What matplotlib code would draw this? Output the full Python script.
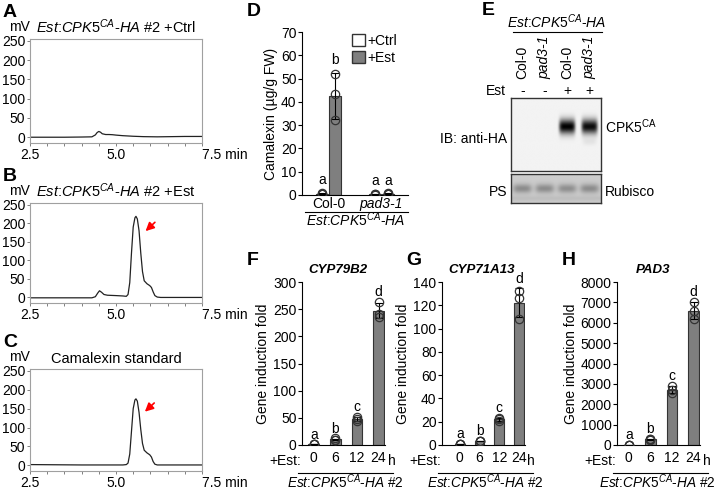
import numpy as np
import matplotlib
matplotlib.use("Agg")
import matplotlib.pyplot as plt
from matplotlib.patches import Patch

plt.rcParams["font.family"] = ["Liberation Sans", "DejaVu Sans"]
plt.rcParams["mathtext.fontset"] = "custom"
plt.rcParams["mathtext.rm"] = "Liberation Sans"
plt.rcParams["mathtext.it"] = "Liberation Sans:italic"
plt.rcParams["font.size"] = 10

W, H = 717, 492

# ---- HPLC traces (time in min, signal in mV) ----
ctrl_t = [2.5, 3.0, 3.5, 4.0, 4.3, 4.4, 4.45, 4.5, 4.55, 4.6, 4.7, 4.8, 4.9, 5.0, 5.2, 5.5, 5.8, 6.2, 6.6, 7.0, 7.5]
ctrl_mv = [0, 0, 0, 0.5, 1, 6, 12, 15, 13, 9, 7, 7, 6.5, 5.5, 4, 2.5, 1.5, 1, 1.5, 2, 2]

est_t = [2.5, 3.5, 4.3, 4.4, 4.47, 4.52, 4.58, 4.65, 4.75, 5.0, 5.2, 5.3, 5.35, 5.4, 5.45, 5.5, 5.55, 5.58,
         5.62, 5.67, 5.72, 5.77, 5.82, 5.9, 5.98, 6.03, 6.08, 6.13, 6.2, 6.3, 7.0, 7.5]
est_mv = [-1, -1, -1, 2, 12, 18, 14, 8, 6, 5, 4, 3, 8, 40, 120, 190, 215, 219,
          212, 180, 120, 70, 45, 37, 32, 27, 15, 5, 1, 0, 0, 0]

std_t = [2.5, 4.0, 5.2, 5.3, 5.35, 5.4, 5.45, 5.5, 5.55, 5.58, 5.62, 5.67, 5.72, 5.77, 5.82, 5.9, 5.98,
         6.03, 6.08, 6.13, 6.2, 7.5]
std_mv = [2, 1, 1, 2, 6, 30, 90, 150, 173, 176, 170, 140, 95, 58, 40, 33, 28, 22, 10, 3, 1, 1]

# ---- camalexin (ug/g FW), three replicates ----
genotypes = ["Col-0", "pad3-1"]
cam_ctrl = [[0.5, 0.8, 0.6], [0.3, 0.4, 0.2]]
cam_est = [[52, 43.5, 32], [0.4, 0.7, 0.5]]
cam_letters_ctrl = ["a", "a"]
cam_letters_est = ["b", "a"]

# ---- western blot band intensities per lane ----
blot_lanes = ["Col-0", "pad3-1", "Col-0", "pad3-1"]
blot_est = ["-", "-", "+", "+"]
cpk_band = [0.0, 0.0, 1.0, 0.95]
rubisco_band = [1.0, 1.0, 0.95, 1.0]

# ---- qPCR gene induction ----
hours = ["0", "6", "12", "24"]
gene_letters = ["a", "b", "c", "d"]
cyp79b2 = [[1, 1, 1], [9, 12, 10], [45, 48, 52], [263, 242, 236]]
cyp71a13 = [[1, 1, 1], [3.5, 3.2, 3.8], [21, 22, 23], [108, 126, 132]]
pad3 = [[1, 1, 1], [250, 280, 300], [2550, 2700, 2900], [6200, 6600, 7000]]

BAR = "#7f7f7f"
LINE_LABEL = r"$\mathit{Est}$:$\mathit{CPK5}^{\mathit{CA}}$-$\mathit{HA}$"

fig = plt.figure(figsize=(W / 100, H / 100), dpi=100)


def px_axes(l, t, r, b):
    return fig.add_axes([l / W, 1 - b / H, (r - l) / W, (b - t) / H])


def ft(x, y, s, **kw):
    return fig.text(x / W, 1 - y / H, s, **kw)


def hline(x0, x1, y, **kw):
    fig.add_artist(plt.Line2D([x0 / W, x1 / W], [1 - y / H, 1 - y / H], color="black", lw=0.8, **kw))


def chromatogram(box, t, mv, title, letter, arrow=None):
    ax = px_axes(*box)
    ax.plot(t, mv, color="#222222", lw=0.9)
    ax.set_xlim(2.5, 7.5)
    ax.set_ylim(-15, 255)
    ax.set_xticks(np.arange(2.5, 7.51, 0.5))
    ax.set_xticklabels(["2.5", "", "", "", "", "5.0", "", "", "", "", "7.5 min"])
    ax.set_yticks(range(0, 251, 50))
    for s in ax.spines.values():
        s.set_color("#a0a0a0")
        s.set_linewidth(0.8)
    ax.tick_params(length=2.5, width=0.7, color="#808080", labelsize=10, pad=1)
    ax.get_xticklabels()[-1].set_horizontalalignment("left")
    ax.get_xticklabels()[-1].set_x(7.18)
    ft(box[0] - 11, box[1] - 5, "mV", ha="center", va="bottom", fontsize=10)
    ft((box[0] + box[2]) / 2, box[1] - 3, title, ha="center", va="bottom", fontsize=10.5)
    ft(3, box[1] - 35, letter, ha="left", va="top", fontsize=14, fontweight="bold")
    if arrow:
        ax.annotate("", xy=arrow[1], xytext=arrow[0],
                    arrowprops=dict(arrowstyle="-|>,head_length=0.5,head_width=0.25", color="red", lw=1.2))
    return ax


chromatogram((30, 39, 202, 143), ctrl_t, ctrl_mv, LINE_LABEL + " #2 +Ctrl", "A")
chromatogram((30, 203, 202, 303), est_t, est_mv, LINE_LABEL + " #2 +Est", "B",
             arrow=((6.19, 208), (5.80, 174)))
chromatogram((30, 369, 202, 471), std_t, std_mv, "Camalexin standard", "C",
             arrow=((6.17, 170), (5.78, 137)))


def dots(ax, x, vals):
    ax.plot([x] * len(vals), vals, "o", ms=6, mfc="none", mec="#333333", mew=0.9, zorder=4)


def mean_sd(vals):
    return np.mean(vals), np.std(vals, ddof=1)


# ---- D: camalexin ----
axd = px_axes(302, 32, 408, 195)
off, bw = 0.125, 0.22
for i, g in enumerate(genotypes):
    for vals, dx, fc, let in [(cam_ctrl[i], -off, "white", cam_letters_ctrl[i]),
                              (cam_est[i], off, BAR, cam_letters_est[i])]:
        m, sd = mean_sd(vals)
        axd.bar(i + dx, m, width=bw, color=fc, edgecolor="#333333", lw=0.8, zorder=2)
        axd.errorbar(i + dx, m, yerr=sd, color="black", capsize=3, lw=0.8, capthick=0.8, zorder=3)
        dots(axd, i + dx, vals)
        axd.text(i + dx, m + sd + 2.5, let, ha="center", va="bottom", fontsize=10)
axd.set_xlim(-0.5, 1.5)
axd.set_ylim(0, 70)
axd.set_yticks(range(0, 71, 10))
axd.set_xticks([0, 1])
axd.set_xticklabels(genotypes)
axd.get_xticklabels()[1].set_fontstyle("italic")
axd.tick_params(axis="x", length=0, pad=1.5, labelsize=10)
axd.tick_params(axis="y", length=3, width=0.8, labelsize=10, pad=1)
for s in ["top", "right"]:
    axd.spines[s].set_visible(False)
axd.set_ylabel("Camalexin (µg/g FW)", fontsize=10, labelpad=2)
axd.legend(handles=[Patch(fc="white", ec="#333333", label="+Ctrl"), Patch(fc=BAR, ec="#333333", label="+Est")],
           loc="upper left", bbox_to_anchor=(0.41, 1.03), frameon=False, fontsize=10,
           handlelength=0.9, handleheight=0.9, handletextpad=0.15, labelspacing=0.2, borderpad=0)
hline(305, 408, 212)
ft(356, 226, LINE_LABEL, ha="center", va="baseline", fontsize=10)
ft(247, 3, "D", ha="left", va="top", fontsize=14, fontweight="bold")

# ---- E: western blot ----
nx = 200
xx = np.linspace(0, 4, nx)
ax_top = px_axes(511, 98, 601, 171)
yy = np.linspace(0, 1, 120)[:, None]
img = np.zeros((120, nx))
for k, a in enumerate(cpk_band):
    img += a * np.exp(-((xx - (k + 0.5)) / 0.36) ** 6)[None, :] * np.exp(-((yy - 0.39) / 0.1) ** 2)
img += 0.06 * cpk_band[3] * np.exp(-((xx - 3.5) / 0.3) ** 4)[None, :] * np.exp(-((yy - 0.6) / 0.05) ** 2)
ax_top.imshow(1 - img, cmap="gray", vmin=0, vmax=1.05, aspect="auto", extent=[0, 4, 1, 0])
ax_low = px_axes(511, 174, 601, 203)
yy2 = np.linspace(0, 1, 60)[:, None]
img2 = np.full((60, nx), 0.80)
for k, a in enumerate(rubisco_band):
    img2 -= 0.25 * a * np.exp(-((xx - (k + 0.5)) / 0.42) ** 4)[None, :] * np.exp(-((yy2 - 0.5) / 0.16) ** 2)
img2 -= 0.05 * np.exp(-((yy2 - 0.85) / 0.1) ** 2)
ax_low.imshow(img2, cmap="gray", vmin=0, vmax=1, aspect="auto", extent=[0, 4, 1, 0])
for a in (ax_top, ax_low):
    a.set_xticks([])
    a.set_yticks([])
    for s in a.spines.values():
        s.set_linewidth(1.0)
        s.set_color("#333333")
lane_x = [511 + (k + 0.5) * 22.5 for k in range(4)]
for k, x in enumerate(lane_x):
    ft(x, 79, blot_lanes[k], rotation=90, ha="center", va="bottom", fontsize=10,
       fontstyle="italic" if blot_lanes[k].startswith("pad") else "normal")
    ft(x, 91, blot_est[k], ha="center", va="center", fontsize=10)
ft(506, 91, "Est", ha="right", va="center", fontsize=10)
hline(513, 602, 32)
ft(557, 28, LINE_LABEL, ha="center", va="baseline", fontsize=10)
ft(507, 139, "IB: anti-HA", ha="right", va="center", fontsize=10)
ft(605, 127, r"CPK5$^{\mathrm{CA}}$", ha="left", va="center", fontsize=10)
ft(507, 192, "PS", ha="right", va="center", fontsize=10)
ft(605, 192, "Rubisco", ha="left", va="center", fontsize=10)
ft(482, 2, "E", ha="left", va="top", fontsize=14, fontweight="bold")


# ---- F, G, H: gene induction ----
def gene_panel(box, data, ymax, ystep, title, letter, letter_x, xlo, gap, label_x):
    ax = px_axes(*box)
    for i, vals in enumerate(data):
        m, sd = mean_sd(vals)
        ax.bar(i, m, width=0.5, color=BAR, edgecolor="#333333", lw=0.8, zorder=2)
        ax.errorbar(i, m, yerr=sd, color="black", capsize=3, lw=0.8, capthick=0.8, zorder=3)
        dots(ax, i, vals)
        ax.text(i, max(m + sd, max(vals)) + gap, gene_letters[i], ha="center", va="bottom", fontsize=10)
    ax.set_xlim(xlo, 3.3)
    ax.set_ylim(0, ymax)
    ax.set_yticks(np.arange(0, ymax + 1, ystep))
    ax.set_xticks(range(4))
    ax.set_xticklabels(hours)
    ax.tick_params(axis="x", length=0, pad=4, labelsize=10)
    ax.tick_params(axis="y", length=3, width=0.8, labelsize=10, pad=1)
    for s in ["top", "right"]:
        ax.spines[s].set_visible(False)
    ax.set_ylabel("Gene induction fold", fontsize=10, labelpad=2)
    tr = ax.get_xaxis_transform()
    ax.text(1.1, 1.035, title, transform=tr, ha="center", va="bottom",
            fontsize=9.5, fontweight="bold", fontstyle="italic")
    ax.text(3.42, -0.1, "h", transform=tr, ha="left", va="center", fontsize=10)
    ax.text(xlo - 0.05, -0.1, "+Est:", transform=tr, ha="right", va="center", fontsize=10)
    hline(box[0] - 4, box[2] + 8, 473)
    ft(label_x, 488, LINE_LABEL + " #2", ha="center", va="baseline", fontsize=9.8)
    ft(letter_x, 252, letter, ha="left", va="top", fontsize=14, fontweight="bold")


gene_panel((302, 282, 385, 445), cyp79b2, 300, 50, "CYP79B2", "F", 247, -0.55, 5, 345)
gene_panel((442, 282, 525, 445), cyp71a13, 140, 20, "CYP71A13", "G", 406, -0.9, 2.5, 485)
gene_panel((617, 282, 700, 445), pad3, 8000, 1000, "PAD3", "H", 562, -0.55, 150, 657)

fig.savefig("out.png", dpi=100)
